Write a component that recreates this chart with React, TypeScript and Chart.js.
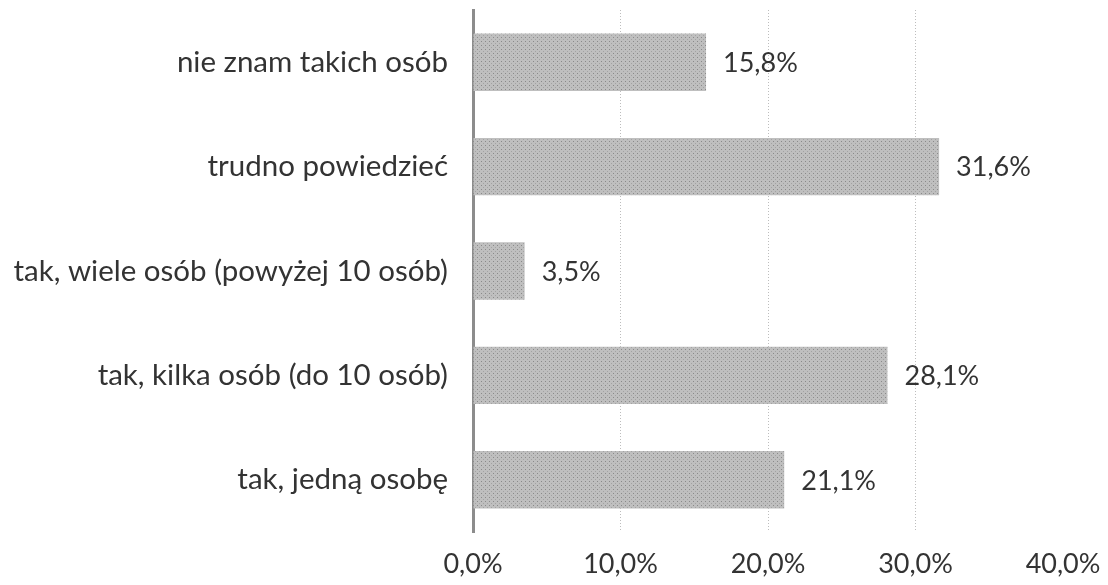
import React, { useEffect, useRef } from "react";
import { Chart, registerables } from "chart.js";

Chart.register(...registerables);

const categories = [
  "nie znam takich osób",
  "trudno powiedzieć",
  "tak, wiele osób (powyżej 10 osób)",
  "tak, kilka osób (do 10 osób)",
  "tak, jedną osobę",
];
const values = [15.8, 31.6, 3.5, 28.1, 21.1];
const xTicks = [0, 10, 20, 30, 40];

const FONT = "Lato, 'Open Sans', sans-serif";
const CAT_SIZE = 29.5;
const NUM_SIZE = 27;
const TEXT = "#333333";

function makePattern(): CanvasPattern | string {
  const c = document.createElement("canvas");
  c.width = 4;
  c.height = 4;
  const g = c.getContext("2d");
  if (!g) return "#b5b5b5";
  g.fillStyle = "#bfbfbf";
  g.fillRect(0, 0, 4, 4);
  g.fillStyle = "#8a8a8a";
  g.fillRect(1, 1, 1, 1);
  g.fillStyle = "#a3a3a3";
  g.fillRect(3, 3, 1, 1);
  const p = g.createPattern(c, "repeat");
  return p || "#b5b5b5";
}

const valueLabels = {
  id: "valueLabels",
  afterDatasetsDraw(chart: any) {
    const ctx = chart.ctx;
    const meta = chart.getDatasetMeta(0);
    ctx.save();
    ctx.font = `${NUM_SIZE}px ${FONT}`;
    ctx.fillStyle = TEXT;
    ctx.textAlign = "left";
    ctx.textBaseline = "middle";
    meta.data.forEach((bar: any, i: number) => {
      const label = values[i].toFixed(1).replace(".", ",") + "%";
      ctx.fillText(label, bar.x + 17, bar.y + 1);
    });
    ctx.restore();
  },
};

export default function App() {
  const ref = useRef<HTMLCanvasElement | null>(null);
  useEffect(() => {
    if (!ref.current) return;
    const chart = new Chart(ref.current, {
      type: "bar",
      data: {
        labels: categories,
        datasets: [
          {
            data: values,
            backgroundColor: makePattern() as any,
            borderWidth: 0,
            categoryPercentage: 1,
            barPercentage: 0.55,
          },
        ],
      },
      options: {
        indexAxis: "y",
        animation: false,
        responsive: false,
        layout: { padding: { top: 10, right: 45, bottom: 0, left: 0 } },
        plugins: {
          legend: { display: false },
          tooltip: { enabled: false },
        },
        scales: {
          x: {
            min: 0,
            max: 40,
            afterBuildTicks(scale: any) {
              scale.ticks = xTicks.map((v) => ({ value: v }));
            },
            afterFit(scale: any) {
              scale.height = 53;
              scale.paddingLeft = 0;
              scale.paddingRight = 0;
            },
            ticks: {
              font: { family: FONT, size: NUM_SIZE },
              color: TEXT,
              padding: 16,
              maxRotation: 0,
              callback: (v: any) => Number(v).toFixed(1).replace(".", ",") + "%",
            },
            grid: {
              drawTicks: false,
              color: (c: any) =>
                c.tick && c.tick.value > 0 && c.tick.value < 40 ? "#bdbdbd" : "rgba(0,0,0,0)",
              lineWidth: 1,
            },
            border: { display: false, dash: [1, 2] },
          },
          y: {
            afterFit(scale: any) {
              scale.width = 473;
              scale.paddingTop = 0;
              scale.paddingBottom = 0;
            },
            ticks: {
              font: { family: FONT, size: CAT_SIZE },
              color: TEXT,
              padding: 25,
            },
            grid: { display: false, drawTicks: false },
            border: { display: true, color: "#8c8c8c", width: 3 },
          },
        },
      },
      plugins: [valueLabels],
    });
    return () => chart.destroy();
  }, []);
  return (
    <div style={{ position: "absolute", left: 0, top: 0, width: 1108, height: 585, background: "#fff" }}>
      <canvas ref={ref} width={1108} height={585} />
    </div>
  );
}
